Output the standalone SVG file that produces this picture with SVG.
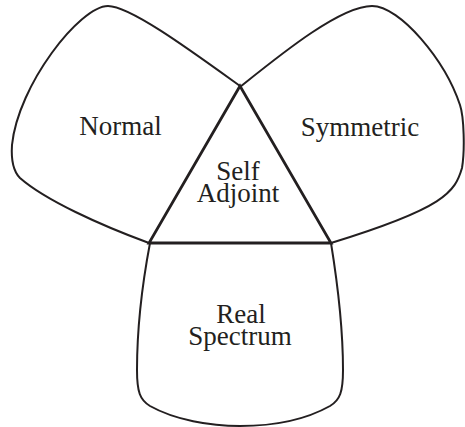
<svg xmlns="http://www.w3.org/2000/svg" width="465" height="427" viewBox="0 0 465 427">
<style>
.bg{fill:#ffffff}
.outer{fill:none;stroke:#231f20;stroke-width:2;stroke-linejoin:round;stroke-linecap:round}
.tri{fill:none;stroke:#231f20;stroke-width:2.8;stroke-linejoin:miter}
.lbl{font-family:"Liberation Serif","Times New Roman",serif;font-size:27px;fill:#231f20;text-anchor:middle}
</style>
<rect class="bg" x="0" y="0" width="465" height="427"/>
<g id="normal">
<path class="outer" d="M240,86 C190,50 130,6 108,6 C80,6 18,85 12,145 C11,160 13,171 20,178 C45,200 100,225 149,243"/>
<text class="lbl" x="120.5" y="135">Normal</text>
</g>
<g id="symmetric">
<path class="outer" d="M240,87 C280,55 340,6 372,6 C400,6 445,60 460,105 C464,117 465,150 462,168 C455,192 445,208 331,243"/>
<text class="lbl" x="360" y="136">Symmetric</text>
</g>
<g id="real-spectrum">
<path class="outer" d="M150,243 C143,280 137,330 137,370 C137,392 140,400 150,406 C175,420 210,426 240,426 C275,426 305,420 330,406 C340,400 343,392 343,370 C343,330 337,280 331,243"/>
<text class="lbl" x="241" y="323">Real</text>
<text class="lbl" x="240" y="345">Spectrum</text>
</g>
<g id="self-adjoint">
<path class="tri" d="M240,86 L149,243 L331,243 Z"/>
<text class="lbl" x="238" y="180">Self</text>
<text class="lbl" x="238" y="202">Adjoint</text>
</g>
<g id="connectors"></g>
</svg>
